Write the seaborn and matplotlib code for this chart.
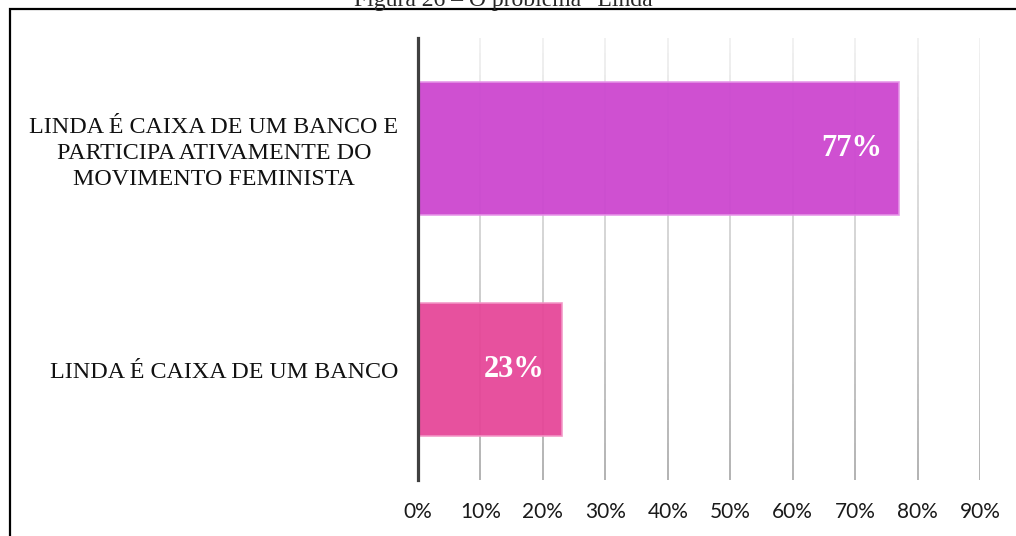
import numpy as np
import pandas as pd
import matplotlib
matplotlib.use("Agg")
import matplotlib.pyplot as plt
from matplotlib.patches import Rectangle
import seaborn as sns

# Data
categories = [
    "LINDA É CAIXA DE UM BANCO E\nPARTICIPA ATIVAMENTE DO\nMOVIMENTO FEMINISTA",
    "LINDA É CAIXA DE UM BANCO",
]
shares = [0.77, 0.23]
value_labels = ["77%", "23%"]
tick_values = [0.0, 0.1, 0.2, 0.3, 0.4, 0.5, 0.6, 0.7, 0.8, 0.9]
tick_labels = ["0%", "10%", "20%", "30%", "40%", "50%", "60%", "70%", "80%", "90%"]
title = "Figura 26 – O problema “Linda”"

bar_colors = ["#CC45CF", "#E64698"]
edge_colors = ["#E694E8", "#F396C6"]

sns.set_style("white")
plt.rcParams["font.family"] = ["Liberation Serif", "DejaVu Serif"]

W, H = 1016, 536
fig = plt.figure(figsize=(W / 100, H / 100), dpi=100)
ax = fig.add_axes([418 / W, 1 - 480 / H, (980 - 418) / W, (480 - 38) / H])

df = pd.DataFrame({"categoria": categories, "valor": shares})
sns.barplot(data=df, x="valor", y="categoria", hue="categoria",
            palette=bar_colors, saturation=1, orient="h", width=0.6,
            legend=False, ax=ax, zorder=2)
for patch, ec in zip(ax.patches, edge_colors):
    patch.set_alpha(0.94)
    patch.set_edgecolor(ec)
    patch.set_linewidth(1.2)

ax.set_xlim(0, 0.9)
ax.set_ylim(1.5, -0.5)

# Vertical gridlines fading toward the top
n_seg = 60
y_edges = np.linspace(-0.5, 1.5, n_seg + 1)
shade = np.linspace(0.93, 0.62, n_seg)
for xv in tick_values[1:]:
    ax.vlines([xv] * n_seg, y_edges[:-1], y_edges[1:],
              colors=[(s, s, s) for s in shade], linewidth=1.1, zorder=1)

# Value labels inside bar ends
for i, (v, lab) in enumerate(zip(shares, value_labels)):
    ax.annotate(lab, xy=(v, i), xytext=(-12, 0), textcoords="offset points",
                ha="right", va="center", color="white", fontsize=22,
                fontweight="bold", family=["Liberation Serif", "DejaVu Serif"],
                zorder=4)

for s in ["top", "right", "bottom"]:
    ax.spines[s].set_visible(False)
ax.spines["left"].set_color("#404040")
ax.spines["left"].set_linewidth(2.3)
ax.spines["left"].set_zorder(5)

ax.set_xticks(tick_values)
ax.set_xticklabels(tick_labels)
ax.tick_params(axis="x", length=0, pad=16, labelsize=15, labelcolor="#1a1a1a")
for t in ax.get_xticklabels():
    t.set_family(["Lato", "DejaVu Sans"])
ax.tick_params(axis="y", length=0, pad=14, labelsize=17.3, labelcolor="#111111")
for t in ax.get_yticklabels():
    t.set_multialignment("center")
    t.set_linespacing(1.3)
ax.set_xlabel("")
ax.set_ylabel("")

# Frame and caption
fig.patches.append(Rectangle((10 / W, -0.2), 1.2, 1.2 - 9 / H, transform=fig.transFigure,
                             fill=False, edgecolor="black", linewidth=1.6, zorder=0))
fig.text(509 / W, 1 - 6 / H, title, ha="center", va="baseline", fontsize=17,
         family=["Liberation Serif", "DejaVu Serif"])

fig.savefig("out.png", dpi=100)
